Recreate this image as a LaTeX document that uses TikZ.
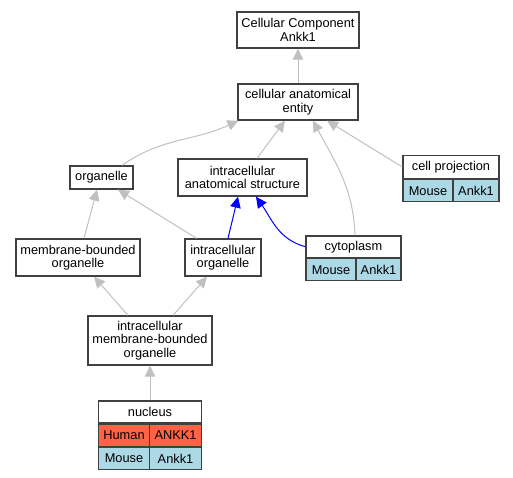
\documentclass[tikz,border=0pt]{standalone}
\usepackage{fontspec}
\setmainfont{Liberation Sans}
\usetikzlibrary{arrows.meta}
\definecolor{human}{HTML}{FF6347}
\definecolor{mouse}{HTML}{ADD8E6}
\definecolor{edgegray}{HTML}{C0C0C0}
\begin{document}
\begin{tikzpicture}[x=1pt, y=1pt,
                    term/.style={draw=black!75, line width=1.3pt, fill=white, align=center, inner sep=0pt},
                    cell/.style={term, minimum height=22pt},
                    isa/.style={draw=edgegray, line width=1pt, -{Triangle[length=11pt, width=10.5pt]}}]
\fontsize{12.8}{13.5}\selectfont
\useasboundingbox (0,0) rectangle (513,-477);

\node[term, minimum width=122pt, minimum height=36pt] (root) at (298,-30) {Cellular Component\\Ankk1};
\node[term, minimum width=120pt, minimum height=36pt] (cae) at (298,-102) {cellular anatomical\\entity};
\node[term, minimum width=63pt, minimum height=23pt] (org) at (101.5,-177.5) {organelle};
\node[term, minimum width=129pt, minimum height=37pt] (ias) at (242.5,-177.5) {intracellular\\anatomical structure};
\node[term, minimum width=96pt, minimum height=23pt] (cp) at (451,-167) {cell projection};
\node[cell, fill=mouse, minimum width=50pt, anchor=north west] (cpm) at (cp.south west) {Mouse};
\node[cell, fill=mouse, minimum width=46pt, anchor=north east] (cpg) at (cp.south east) {Ankk1};
\node[term, minimum width=124pt, minimum height=37pt] (mbo) at (78,-257.5) {membrane-bounded\\organelle};
\node[term, minimum width=76pt, minimum height=37pt] (io) at (223,-257.5) {intracellular\\organelle};
\node[term, minimum width=95pt, minimum height=21.5pt] (cyt) at (353.5,-246.7) {cytoplasm};
\node[cell, fill=mouse, minimum width=50pt, anchor=north west] (cytm) at (cyt.south west) {Mouse};
\node[cell, fill=mouse, minimum width=45pt, anchor=north east] (cytg) at (cyt.south east) {Ankk1};
\node[term, minimum width=124pt, minimum height=49pt] (imbo) at (150,-340.5) {intracellular\\membrane-bounded\\organelle};
\node[term, minimum width=103pt, minimum height=22pt] (nuc) at (150,-412) {nucleus};
\node[cell, fill=human, minimum width=51pt, anchor=north west] (nuch) at (nuc.south west) {Human};
\node[cell, fill=human, minimum width=52pt, anchor=north east] (nuchg) at (nuc.south east) {ANKK1};
\node[cell, fill=mouse, minimum width=51pt, anchor=north west] (nucm) at (nuch.south west) {Mouse};
\node[cell, fill=mouse, minimum width=52pt, anchor=north east] (nucmg) at (nuchg.south east) {Ankk1};

\draw[isa] (cae) -- (root);
\draw[isa] ([xshift=20.5pt]org.north) to[out=35,in=205] ([xshift=1pt]cae.south west);
\draw[isa] ([xshift=14.5pt]ias.north) -- ([xshift=-13pt]cae.south);
\draw[isa] ([xshift=1.5pt]cyt.north) to[out=92,in=-62] ([xshift=15pt]cae.south);
\draw[isa] (cp.west) -- ([xshift=29pt]cae.south);
\draw[isa] ([xshift=6pt]mbo.north) -- ([xshift=-4.5pt]org.south);
\draw[isa] ([xshift=-26.5pt]io.north) -- ([xshift=16.5pt]org.south);
\draw[isa, draw=blue] ([xshift=5pt]io.north) -- ([xshift=-4.5pt]ias.south);
\draw[isa, draw=blue] (cyt.west) to[out=165,in=-55] ([xshift=13.5pt]ias.south);
\draw[isa] ([xshift=-22pt]imbo.north) -- ([xshift=16pt]mbo.south);
\draw[isa] ([xshift=23pt]imbo.north) -- ([xshift=-16pt]io.south);
\draw[isa] (nuc) -- (imbo);
\end{tikzpicture}
\end{document}
